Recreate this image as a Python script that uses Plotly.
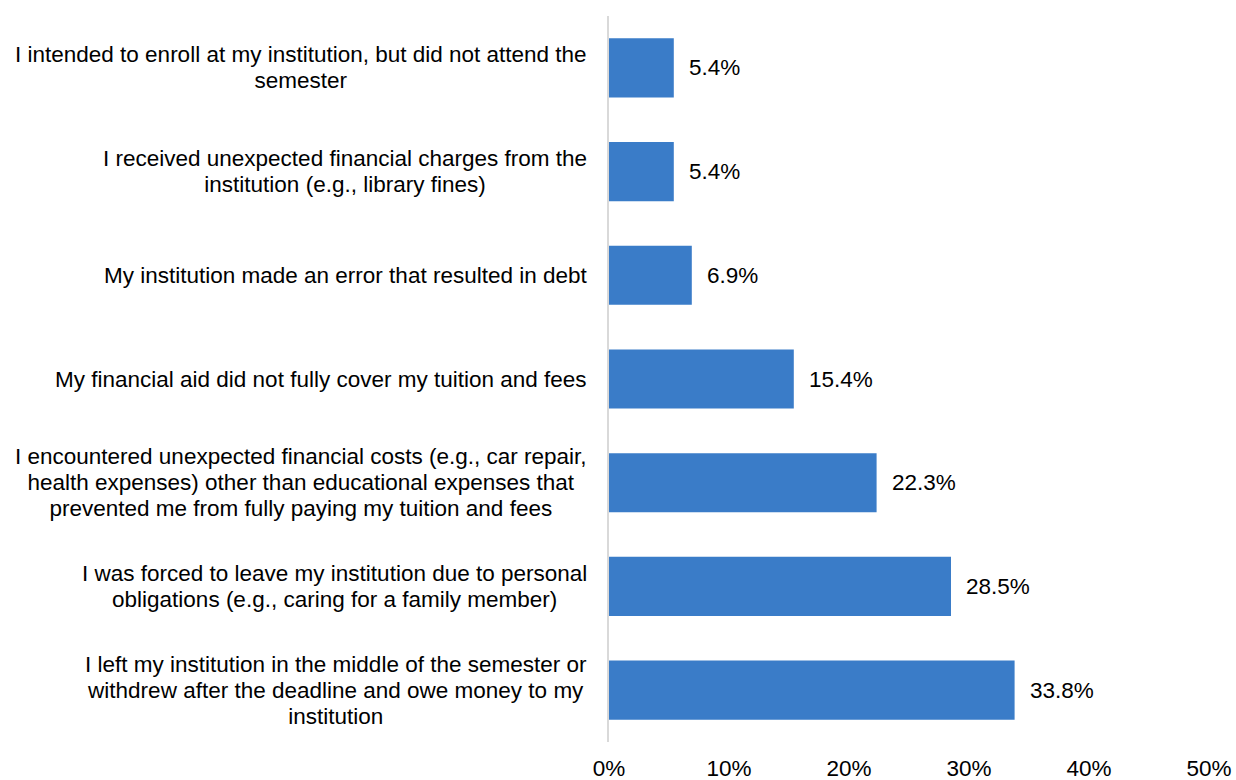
import plotly.graph_objects as go

# Reasons for owing money to the institution (share of respondents, %)
reasons = [
    ["I left my institution in the middle of the semester or",
     "withdrew after the deadline and owe money to my",
     "institution"],
    ["I was forced to leave my institution due to personal",
     "obligations (e.g., caring for a family member)"],
    ["I encountered unexpected financial costs (e.g., car repair,",
     "health expenses) other than educational expenses that",
     "prevented me from fully paying my tuition and fees"],
    ["My financial aid did not fully cover my tuition and fees"],
    ["My institution made an error that resulted in debt"],
    ["I received unexpected financial charges from the",
     "institution (e.g., library fines)"],
    ["I intended to enroll at my institution, but did not attend the",
     "semester"],
]
shares = [33.8, 28.5, 22.3, 15.4, 6.9, 5.4, 5.4]
tick_vals = [0, 10, 20, 30, 40, 50]
tick_text = ["0%", "10%", "20%", "30%", "40%", "50%"]

FONT = "Liberation Sans, Arial, sans-serif"
SIZE = 22.5
BAR = "#3a7cc8"


def sized(line):
    # glyphs at full size while the annotation's own (smaller) font sets line spacing
    return f"<span style='font-size:{SIZE}px'>{line}</span>"


fig = go.Figure(
    go.Bar(
        x=shares,
        y=list(range(len(reasons))),
        orientation="h",
        marker=dict(color=BAR, line=dict(width=0)),
        width=0.57,
        hoverinfo="skip",
    )
)

annotations = []
for i, (lines, v) in enumerate(zip(reasons, shares)):
    # category label to the left of the axis, lines centred in the block
    annotations.append(dict(
        x=0, xref="paper", y=i, yref="y",
        text="<br>".join(sized(s) for s in lines),
        xanchor="right", yanchor="middle", align="center",
        xshift=-20, showarrow=False,
        font=dict(family=FONT, size=20, color="#000000"),
    ))
    # value label just past the bar end
    annotations.append(dict(
        x=v, xref="x", y=i, yref="y", text=f"{v:.1f}%",
        xanchor="left", yanchor="middle", xshift=13, showarrow=False,
        font=dict(family=FONT, size=SIZE, color="#000000"),
    ))

fig.update_layout(
    width=1236, height=780,
    margin=dict(l=609, r=27, t=16, b=38),
    paper_bgcolor="white", plot_bgcolor="white",
    showlegend=False,
    annotations=annotations,
    xaxis=dict(
        range=[0, 50], tickvals=tick_vals, ticktext=tick_text,
        showgrid=False, zeroline=False, showline=False,
        ticks="outside", ticklen=6, tickcolor="rgba(0,0,0,0)",
        tickfont=dict(family=FONT, size=SIZE, color="#000000"),
        ticklabeloverflow="allow",
        automargin=False,
    ),
    yaxis=dict(
        range=[-0.5, len(reasons) - 0.5],
        showticklabels=False, showgrid=False, zeroline=False,
        showline=True, linecolor="#d9d9d9", linewidth=2,
        automargin=False,
    ),
)

fig.write_html("out.html")
